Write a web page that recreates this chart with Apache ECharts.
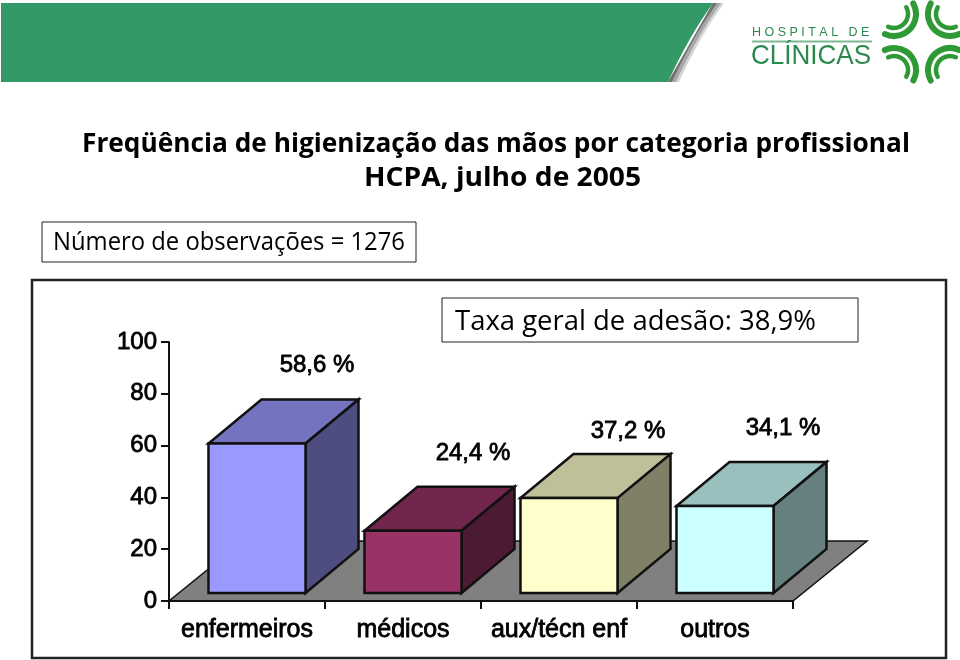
<!DOCTYPE html>
<html>
<head>
<meta charset="utf-8">
<style>html,body{margin:0;padding:0;background:#fff}#c{width:960px;height:660px}</style>
<script src="https://cdn.jsdelivr.net/npm/echarts@6/dist/echarts.min.js"></script>
</head>
<body>
<div id="c"></div>
<script>
const categories = ['enfermeiros', 'médicos', 'aux/técn enf', 'outros'];
const adherence = [58.6, 24.4, 37.2, 34.1];
const yTicks = [0, 20, 40, 60, 80, 100];
const titleLines = ['Freqüência de higienização das mãos por categoria profissional', 'HCPA, julho de 2005'];
const observationsNote = 'Número de observações = 1276';
const overallNote = 'Taxa geral de adesão: 38,9%';

const faceColors = [
  { front: '#9999FF', top: '#7373BF', side: '#4D4D80' },
  { front: '#993366', top: '#73264D', side: '#4D1A33' },
  { front: '#FFFFCC', top: '#BFBF99', side: '#808066' },
  { front: '#CCFFFF', top: '#99BFBF', side: '#668080' }
];
const labelNudge = [[60, -78], [60, -77], [59, -67], [58, -78]];

const LINE = '#111';
const SANS = '"Liberation Sans", Arial, sans-serif';
const HAND = '"Open Sans", sans-serif';
const floorDepth = [74, -60];
const barInset = [10, -8];
const barDepth = [53, -44];
const barWidthRatio = 0.622;
const frontScale = 0.985;

function poly(points, fill, lw) {
  return { type: 'polygon', shape: { points }, style: { fill, stroke: LINE, lineWidth: lw, lineJoin: 'miter' } };
}

function renderFloor(params, api) {
  const a = api.coord([0, 0]);
  const g = api.size([1, 0])[0];
  const x0 = a[0] - g / 2, x1 = x0 + g * categories.length, y = a[1];
  return poly([[x0, y], [x1, y], [x1 + floorDepth[0], y + floorDepth[1]], [x0 + floorDepth[0], y + floorDepth[1]]], '#808080', 1.5);
}

function renderBar(params, api) {
  const i = params.dataIndex;
  const cat = api.value(0), val = api.value(1);
  const base = api.coord([cat, 0]);
  const top = api.coord([cat, val]);
  const band = api.size([1, 0])[0];
  const w = band * barWidthRatio;
  const cx = base[0] + barInset[0];
  const xl = cx - w / 2, xr = cx + w / 2;
  const yb = base[1] + barInset[1];
  const yt = yb - (base[1] - top[1]) * frontScale;
  const [dx, dy] = barDepth;
  const c = faceColors[i];
  return {
    type: 'group',
    children: [
      poly([[xl, yt], [xr, yt], [xr + dx, yt + dy], [xl + dx, yt + dy]], c.top, 2.5),
      poly([[xr, yt], [xr + dx, yt + dy], [xr + dx, yb + dy], [xr, yb]], c.side, 2.5),
      poly([[xl, yt], [xr, yt], [xr, yb], [xl, yb]], c.front, 2.5),
      {
        type: 'text',
        style: {
          x: cx + labelNudge[i][0], y: yt + labelNudge[i][1],
          text: String(val).replace('.', ',') + ' %',
          font: '24px ' + SANS, fill: '#000', align: 'center', verticalAlign: 'middle',
          stroke: '#000', lineWidth: 0.8
        }
      }
    ]
  };
}

/* text squeezed to the reference width */
const ruler = document.createElement('canvas').getContext('2d');
function fitted(text, font, left, right, y, z) {
  ruler.font = font;
  return {
    type: 'text', z, x: left, y, scaleX: (right - left) / ruler.measureText(text).width,
    style: { x: 0, y: 0, text, font, fill: '#000', verticalAlign: 'middle' }
  };
}

/* header band with its slanted edge and soft shadow */
function edge(shift) {
  const pts = [];
  for (let k = 0; k <= 16; k++) {
    const t = k / 16, u = 1 - t;
    pts.push([u * u * 713 + 2 * u * t * 688 + t * t * 668 + shift, u * u * 3 + 2 * u * t * 38 + t * t * 82]);
  }
  return pts;
}
const band = [
  { type: 'polygon', z: 1, shape: { points: [...edge(11), [668, 82], [713, 3]] }, style: { fill: '#d6d6d6' } },
  { type: 'polygon', z: 1, shape: { points: [...edge(8), [668, 82], [713, 3]] }, style: { fill: '#a8a8a8' } },
  { type: 'polygon', z: 1, shape: { points: [...edge(4), [668, 82], [713, 3]] }, style: { fill: '#707070' } },
  { type: 'polygon', z: 2, shape: { points: [[1, 3], ...edge(0), [1, 82]] }, style: { fill: '#339966' } }
];
const MARK = '#2f9a35';
const marks = [];
[[894, 14, -0.5, 2.0], [950, 14, 1.14, 3.64], [894, 70, 4.28, 6.78], [950, 70, 2.64, 5.14]].forEach(q => {
  [[22, 6], [14, 4.5]].forEach(s => {
    marks.push({
      type: 'arc', z: 3,
      shape: { cx: q[0], cy: q[1], r: s[0], startAngle: q[2], endAngle: q[3], clockwise: true },
      style: { stroke: MARK, lineWidth: s[1], fill: 'none', lineCap: 'round' }
    });
  });
});
const logo = [
  { type: 'text', z: 3, style: { x: 752, y: 33, text: 'H O S P I T A L   D E', font: '12.5px ' + SANS, fill: '#2a8a4e', verticalAlign: 'middle' } },
  { type: 'rect', z: 3, shape: { x: 752, y: 40.5, width: 120, height: 2 }, style: { fill: '#7fb894' } },
  { type: 'text', z: 3, x: 751, y: 56, scaleX: 0.93, style: { x: 0, y: 0, text: 'CLÍNICAS', font: '28px ' + SANS, fill: '#2a8a4e', verticalAlign: 'middle' } }
];
const frames = [
  { type: 'rect', z: 0, shape: { x: 32, y: 280, width: 914, height: 378 }, style: { fill: '#fff', stroke: '#222', lineWidth: 2.5 } },
  { type: 'rect', z: 5, shape: { x: 42, y: 222, width: 374, height: 40 }, style: { fill: '#fff', stroke: '#222', lineWidth: 1 } },
  { type: 'rect', z: 5, shape: { x: 442, y: 298, width: 416, height: 44 }, style: { fill: '#fff', stroke: '#222', lineWidth: 1 } }
];
const texts = [
  fitted(titleLines[0], 'bold 27px ' + HAND, 82, 910, 144, 6),
  fitted(titleLines[1], 'bold 27px ' + HAND, 364, 641, 178, 6),
  fitted(observationsNote, '25px ' + HAND, 53, 405, 243, 6),
  fitted(overallNote, '28px ' + HAND, 455, 816, 322, 6)
];

const chart = echarts.init(document.getElementById('c'), null, { renderer: 'canvas' });
chart.setOption({
  animation: false,
  backgroundColor: '#fff',
  grid: { left: 169, right: 167, top: 342, bottom: 59, containLabel: false },
  xAxis: {
    type: 'category', data: categories, z: 3,
    axisLine: { lineStyle: { color: LINE, width: 2 } },
    axisTick: { show: true, length: 8, alignWithLabel: false, lineStyle: { color: LINE, width: 2 } },
    axisLabel: { color: '#000', fontFamily: 'Liberation Sans', fontSize: 25, margin: 17, interval: 0, textBorderColor: '#000', textBorderWidth: 0.8 },
    splitLine: { show: false }
  },
  yAxis: {
    type: 'value', min: yTicks[0], max: yTicks[yTicks.length - 1], interval: yTicks[1] - yTicks[0], z: 3,
    axisLine: { show: true, lineStyle: { color: LINE, width: 2 } },
    axisTick: { show: true, length: 8, lineStyle: { color: LINE, width: 2 } },
    axisLabel: { color: '#000', fontFamily: 'Liberation Sans', fontSize: 24, margin: 12, textBorderColor: '#000', textBorderWidth: 0.8 },
    splitLine: { show: false }
  },
  graphic: { elements: [...band, ...marks, ...logo, ...frames, ...texts] },
  series: [
    { type: 'custom', z: 1, silent: true, renderItem: renderFloor, data: [[0, 0]], encode: { x: 0, y: 1 } },
    { type: 'custom', z: 4, silent: true, renderItem: renderBar, data: categories.map((c, i) => [i, adherence[i]]), encode: { x: 0, y: 1 } }
  ]
});
</script>
</body>
</html>
